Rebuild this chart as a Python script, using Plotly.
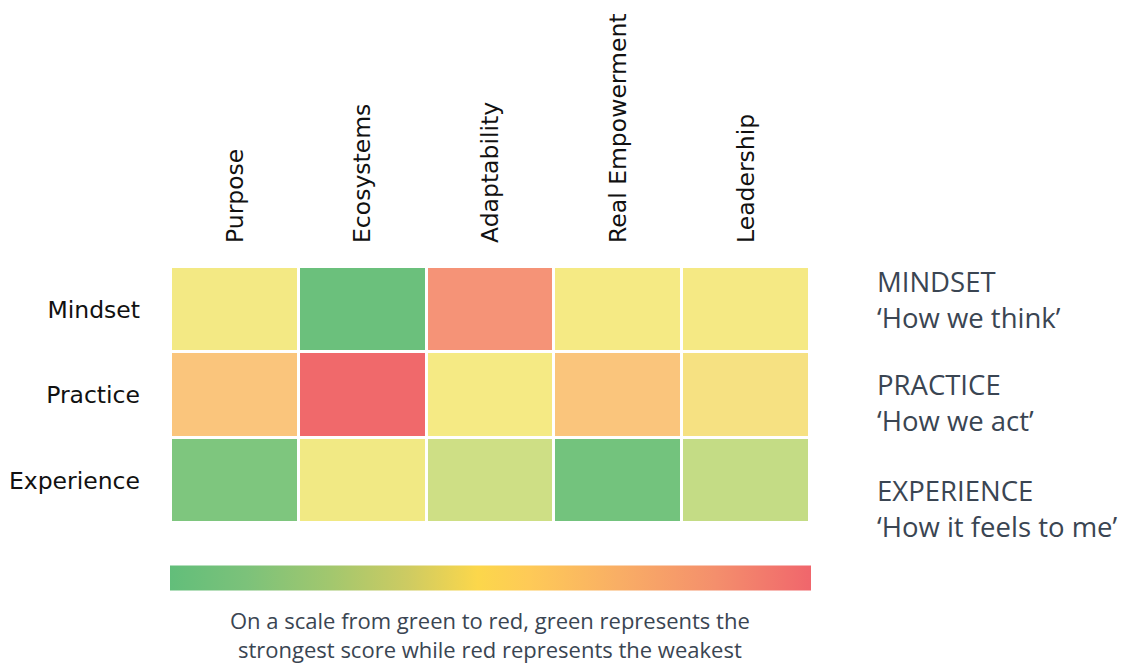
import plotly.graph_objects as go

dimensions = ["Purpose", "Ecosystems", "Adaptability", "Real Empowerment", "Leadership"]
levels = ["Mindset", "Practice", "Experience"]
# weakness score: 0 = strongest (green), 100 = weakest (red)
mindset = [49, 2, 88, 50, 51]
practice = [75, 100, 50, 75, 56]
experience = [7, 48, 30, 4, 25]

right_titles = ["MINDSET", "PRACTICE", "EXPERIENCE"]
right_subtitles = ["\u2018How we think\u2019", "\u2018How we act\u2019", "\u2018How it feels to me\u2019"]
caption = "On a scale from green to red, green represents the<br>strongest score while red represents the weakest"

cell_scale = [
    [0.0, "#63BE7B"],
    [0.25, "#C4DC85"],
    [0.5, "#F5EA84"],
    [0.75, "#FAC57C"],
    [0.88, "#F59377"],
    [1.0, "#F0696B"],
]
bar_scale = [
    [0.0, "#62BE7A"],
    [0.12, "#7CC27A"],
    [0.25, "#A2C76E"],
    [0.37, "#CDCB62"],
    [0.48, "#FCD74B"],
    [0.56, "#FECA57"],
    [0.7, "#F9AE65"],
    [0.85, "#F48F6C"],
    [1.0, "#F0666C"],
]

W, H = 1127, 663


def px(x):
    return x / W


def py(y):
    return 1 - y / H


fig = go.Figure()
fig.add_trace(go.Heatmap(
    z=[mindset, practice, experience],
    x=dimensions,
    y=levels,
    zmin=0, zmax=100,
    colorscale=cell_scale,
    showscale=False,
    xgap=3, ygap=3,
    hoverinfo="skip",
))
fig.add_trace(go.Scatter(
    x=[None], y=[None], mode="markers",
    marker=dict(
        color=[0], cmin=0, cmax=1, colorscale=bar_scale, showscale=True,
        colorbar=dict(
            orientation="h", lenmode="pixels", len=641,
            thicknessmode="pixels", thickness=25,
            x=px(490.5), xanchor="center", xref="paper",
            y=py(577.5), yanchor="middle", yref="paper",
            xpad=0, ypad=0, outlinewidth=0,
            showticklabels=False, ticks="",
        ),
    ),
    showlegend=False, hoverinfo="skip",
))

fig.update_xaxes(
    domain=[px(171), px(810)], side="top", tickangle=-90,
    showgrid=False, zeroline=False, showline=False, ticks="",
    tickfont=dict(family="DejaVu Sans", size=23.5, color="#111111"),
    ticklabelstandoff=23,
)
fig.update_yaxes(
    domain=[py(523), py(267)], autorange="reversed",
    showgrid=False, zeroline=False, showline=False, ticks="",
    tickfont=dict(family="DejaVu Sans", size=23.5, color="#111111"),
    ticklabelstandoff=30,
)

ys = [300, 403, 508]
for t, s, y in zip(right_titles, right_subtitles, ys):
    fig.add_annotation(
        x=px(875), y=py(y), xref="paper", yref="paper",
        xanchor="left", yanchor="middle", showarrow=False, align="left",
        text=t + "<br>" + s,
        font=dict(family="Open Sans", size=27.5, color="#3A4552"),
    )

fig.add_annotation(
    x=px(490), y=py(634), xref="paper", yref="paper",
    xanchor="center", yanchor="middle", showarrow=False, align="center",
    text=caption,
    font=dict(family="Open Sans", size=22, color="#3A4552"),
)

fig.update_layout(
    width=W, height=H,
    margin=dict(l=0, r=0, t=0, b=0),
    paper_bgcolor="white", plot_bgcolor="white",
    showlegend=False,
)
fig.write_html(
    "out.html",
    config={"displayModeBar": False},
    post_script="document.documentElement.style.margin='0';"
                "document.body.style.margin='0';"
                "document.body.style.overflow='hidden';",
)
